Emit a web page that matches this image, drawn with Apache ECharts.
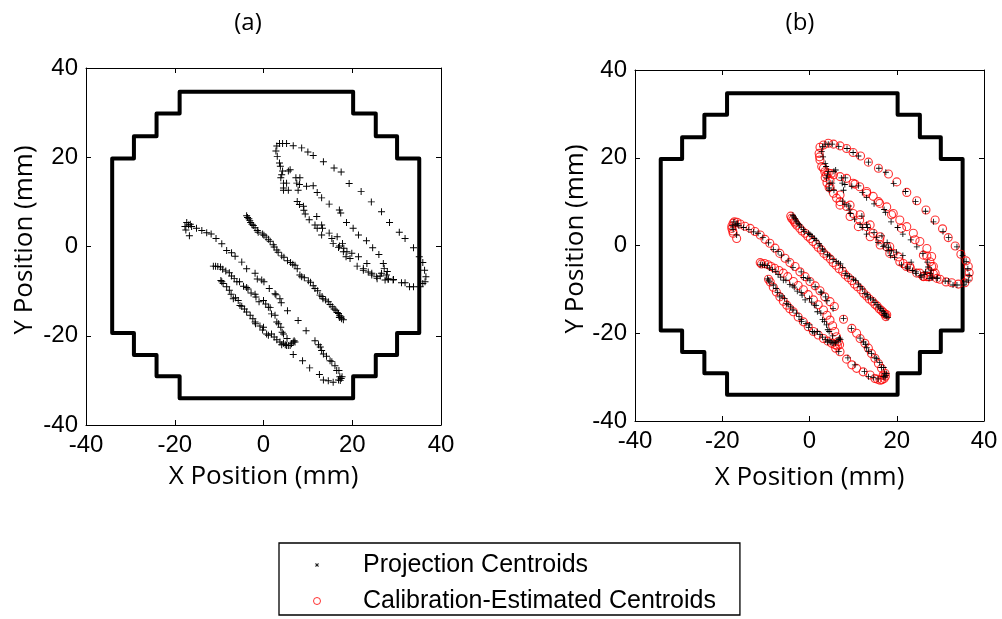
<!DOCTYPE html>
<html>
<head>
<meta charset="utf-8">
<script src="https://cdn.jsdelivr.net/npm/echarts@6/dist/echarts.min.js"></script>
<style>
  html, body { margin: 0; padding: 0; background: #fff; }
  #chart { width: 1002px; height: 619px; }
</style>
</head>
<body>
<div id="chart"></div>
<script>
// Axis range and ticks (mm)
const axisMin = -40;
const axisMax = 40;
const axisStep = 20;

const panelTitles = ['(a)', '(b)'];
const xAxisName = 'X Position (mm)';
const yAxisName = 'Y Position (mm)';
const seriesNames = ['Projection Centroids', 'Calibration-Estimated Centroids'];

// Stepped outline of the detector field of view (mm)
const fieldOutline = [
  [-18.9, 34.7], [20.2, 34.7], [20.2, 29.8], [25.3, 29.8], [25.3, 24.7], [30.1, 24.7],
  [30.1, 19.7], [35.1, 19.7], [35.1, -19.4], [30.1, -19.4], [30.1, -24.3], [25.3, -24.3],
  [25.3, -29.1], [20.2, -29.1], [20.2, -34.0], [-18.9, -34.0], [-18.9, -29.1], [-24.1, -29.1],
  [-24.1, -24.3], [-29.2, -24.3], [-29.2, -19.4], [-34.1, -19.4], [-34.1, 19.7], [-29.2, 19.7],
  [-29.2, 24.7], [-24.1, 24.7], [-24.1, 29.8], [-18.9, 29.8], [-18.9, 34.7]
];

// Projection centroids (mm), grouped by sweep
const projSweep1 = [
  [-17.3, 5.4], [-16.9, 4.8], [-17.7, 4.5], [-17.5, 3.7], [-16.7, 2.4], [-16.5, 5.0], [-16.2, 4.5],
  [-15.1, 4.1], [-13.9, 3.6], [-12.8, 3.1], [-11.8, 2.8], [-10.7, 1.8], [-9.4, 0.6], [-8.3, -0.9],
  [-7.2, -1.4], [-6.4, -2.2], [-4.9, -3.5], [-3.8, -5.0], [-1.9, -6.0], [-1.4, -7.3], [-0.4, -7.5],
  [0.1, -7.9], [1.3, -9.4], [2.6, -10.6], [2.8, -10.8], [3.7, -11.7], [4.0, -12.6], [5.4, -14.4],
  [7.8, -16.6], [9.6, -18.9], [11.6, -21.1], [12.4, -22.0], [12.8, -22.5], [13.1, -23.3], [13.5, -24.1],
  [14.2, -24.6], [15.0, -25.6], [15.4, -25.8], [16.1, -26.7], [16.5, -27.8], [17.0, -27.8], [17.2, -29.2],
  [17.5, -29.6], [17.7, -29.2], [16.9, -29.9], [17.3, -30.0]
];
const projReturn = [
  [15.7, -30.4], [14.6, -30.1], [13.5, -29.9], [12.6, -28.7], [10.4, -27.2], [8.8, -25.6], [6.7, -24.2]
];
const projSweep2 = [
  [-3.8, 6.9], [-3.6, 6.5], [-3.3, 6.2], [-3.1, 5.8], [-2.9, 5.4], [-2.6, 5.0], [-2.3, 4.7], [-1.9, 4.2],
  [-1.4, 3.6], [-1.2, 3.2], [-0.2, 2.8], [0.1, 2.5], [0.6, 2.1], [1.1, 1.6], [1.5, 1.2], [2.2, 0.4],
  [2.4, -0.1], [3.0, -0.8], [3.3, -1.3], [4.1, -2.1], [4.6, -2.4], [5.4, -3.2], [6.1, -3.6], [6.6, -4.0],
  [7.1, -4.2], [7.6, -5.0], [8.2, -6.4], [8.6, -6.8], [9.2, -7.0], [10.1, -7.7], [10.6, -8.0], [11.2, -8.8],
  [11.6, -9.4], [12.2, -9.9], [12.7, -10.9], [13.2, -11.2], [13.4, -11.7], [14.0, -12.0], [14.6, -12.4],
  [15.0, -13.0], [15.5, -13.5], [15.9, -14.0], [16.3, -14.3], [16.6, -14.8], [16.9, -15.0], [17.2, -15.5],
  [17.5, -15.8], [17.6, -16.2], [17.1, -15.9], [18.0, -16.4]
];
const projSweep3 = [
  [-11.3, -4.4], [-10.8, -4.4], [-10.3, -4.5], [-9.7, -4.6], [-9.2, -5.1], [-8.5, -5.5], [-7.7, -5.9],
  [-7.2, -6.6], [-6.6, -7.2], [-6.0, -7.9], [-5.4, -7.9], [-4.5, -8.9], [-3.8, -9.2], [-3.5, -9.5],
  [-2.8, -10.4], [-1.9, -10.7], [-1.7, -11.3], [-1.0, -12.4], [0.0, -12.1], [0.5, -12.9], [1.1, -13.6],
  [1.5, -13.7], [1.8, -15.1], [2.6, -15.4], [3.0, -16.9], [3.4, -17.3], [3.9, -18.1], [4.2, -19.2],
  [4.5, -19.6], [5.3, -20.6]
];
const projSweep4 = [
  [-9.6, -7.6], [-9.4, -7.9], [-9.1, -8.3], [-8.3, -9.0], [-7.7, -9.8], [-7.3, -10.7], [-6.8, -11.7],
  [-6.3, -11.5], [-5.7, -12.1], [-5.3, -13.2], [-4.9, -13.4], [-4.3, -14.0], [-3.8, -14.7], [-3.0, -15.4],
  [-2.4, -16.2], [-1.9, -16.9], [-1.8, -17.3], [-0.8, -17.8], [0.0, -18.1], [-0.2, -18.7], [0.7, -19.6],
  [1.1, -19.9], [1.8, -19.6], [2.4, -20.3], [3.0, -20.9], [3.7, -21.4], [4.1, -22.0], [4.5, -21.7],
  [4.9, -22.0], [5.2, -22.2], [5.6, -22.2], [6.0, -22.2], [6.3, -21.8], [6.7, -21.4], [6.9, -21.1], [7.1, -21.4]
];
const projLoopOuter = [
  [2.8, 21.4], [3.0, 22.5], [3.6, 23.1], [4.3, 23.1], [5.2, 23.1], [6.7, 22.6], [8.6, 22.1], [10.0, 21.2],
  [11.2, 20.4], [13.5, 19.0], [15.9, 17.6], [17.5, 16.7], [19.3, 14.1], [22.0, 12.3], [24.3, 10.0],
  [26.6, 7.8], [28.4, 5.4], [30.6, 3.2], [31.9, 1.8], [33.8, -0.3], [35.1, -2.3], [35.9, -3.6], [36.3, -5.3],
  [36.6, -6.8], [36.4, -7.9], [35.9, -8.3], [35.3, -9.0], [33.8, -9.0], [32.9, -9.0], [31.9, -8.1],
  [31.1, -8.1], [29.3, -7.4], [28.1, -7.4]
];
const projLoopMiddle = [
  [3.1, 20.2], [3.6, 18.7], [3.8, 18.0], [4.3, 16.9], [5.6, 16.9], [6.0, 17.2], [4.1, 16.1], [3.9, 15.4],
  [4.5, 14.2], [5.2, 14.2], [4.5, 13.1], [4.5, 12.6], [5.6, 12.6], [7.3, 15.4], [8.2, 15.4], [7.5, 14.2],
  [8.1, 13.9], [7.8, 12.6], [9.7, 13.5], [11.2, 13.6], [12.1, 12.1], [13.1, 10.9], [14.8, 9.5], [17.1, 8.2],
  [17.4, 7.5], [18.7, 5.4], [20.2, 4.1], [21.4, 2.6], [23.2, 1.3], [24.6, -0.3], [26.0, -1.8], [27.0, -3.8],
  [27.2, -4.9], [26.6, -6.0], [27.7, -6.4], [28.1, -7.2], [29.2, -7.5], [27.4, -7.5], [27.9, -5.6]
];
const projLoopLower = [
  [7.6, 10.1], [8.1, 9.4], [9.0, 9.0], [9.1, 8.1], [9.4, 7.3], [10.3, 6.0], [12.0, 6.7], [11.6, 4.8],
  [12.1, 4.1], [13.3, 4.1], [13.1, 4.8], [13.1, 2.6], [14.8, 3.0], [15.4, 1.8], [16.6, 2.2], [15.7, 0.7],
  [17.1, 0.1], [17.8, 0.7], [16.9, -0.2], [18.1, -0.4], [18.0, -1.2], [18.8, -1.2], [19.9, -1.5],
  [18.6, -2.3], [19.5, -2.7], [21.4, -2.3], [21.1, -4.4], [22.5, -4.9], [23.3, -3.8], [22.5, -5.3],
  [23.6, -5.7], [24.4, -6.0], [24.4, -6.4], [25.5, -6.8], [25.6, -7.2], [26.3, -6.6]
];

// Calibration-estimated centroids (mm), grouped by sweep
const calSweep1 = [
  [-17.2, 5.4], [-17.5, 5.1], [-17.8, 4.4], [-17.8, 3.9], [-17.6, 3.3], [-17.5, 2.8], [-16.7, 1.6],
  [-16.6, 5.3], [-15.9, 4.9], [-14.8, 4.4], [-13.6, 3.9], [-12.5, 3.2], [-11.3, 2.4], [-10.2, 1.4],
  [-9.1, 0.5], [-7.9, -0.6], [-6.8, -1.8], [-5.6, -2.9], [-4.5, -3.9], [-3.3, -4.8], [-2.2, -6.0],
  [-1.0, -7.1], [0.1, -8.2], [1.3, -9.2], [2.4, -10.3], [3.5, -11.7], [4.7, -12.8], [5.7, -13.9],
  [7.8, -16.8], [9.7, -18.9], [10.8, -20.0], [11.6, -21.2], [12.7, -22.3], [13.5, -23.4], [14.2, -24.6],
  [15.0, -25.7], [15.8, -26.9], [16.5, -28.0], [17.3, -29.1], [17.4, -29.8], [17.1, -30.3], [16.6, -30.6],
  [16.2, -30.7], [16.9, -29.5]
];
const calReturn = [
  [15.6, -30.5], [15.0, -30.3], [13.9, -29.5], [12.3, -28.8], [10.8, -28.0], [9.7, -27.2], [8.5, -25.9],
  [7.0, -24.2]
];
const calSweep2 = [
  [-4.3, 6.7], [-4.1, 6.2], [-3.8, 5.9], [-3.5, 5.5], [-3.3, 5.1], [-2.9, 4.6], [-2.2, 3.9], [-1.7, 3.3],
  [-1.0, 2.8], [-0.4, 2.1], [0.2, 1.6], [0.8, 0.9], [1.5, 0.3], [2.0, -0.4], [2.7, -1.0], [3.3, -1.8],
  [4.0, -2.4], [4.8, -3.1], [5.4, -3.9], [6.1, -4.5], [6.8, -5.3], [7.6, -5.9], [8.2, -6.7], [8.9, -7.3],
  [9.7, -8.0], [10.3, -8.8], [11.0, -9.4], [11.8, -10.1], [12.4, -10.9], [13.1, -11.5], [13.7, -12.2],
  [14.4, -12.7], [15.0, -13.4], [15.5, -13.8], [16.0, -14.4], [16.5, -14.8], [16.9, -15.2], [17.3, -15.6],
  [17.7, -15.8], [17.5, -16.2]
];
const calSweep3 = [
  [-11.3, -3.9], [-11.0, -4.2], [-10.3, -4.1], [-9.5, -4.4], [-8.8, -4.8], [-8.0, -5.2], [-7.0, -5.7],
  [-6.0, -6.3], [-5.0, -7.1], [-3.7, -8.2], [-2.6, -9.1], [-1.4, -10.1], [-0.3, -11.2], [0.9, -12.4],
  [2.0, -13.5], [3.2, -14.7], [4.0, -15.9], [4.7, -17.0], [5.3, -18.3], [5.8, -19.6], [6.2, -20.8],
  [6.6, -21.9], [6.9, -22.6]
];
const calSweep4 = [
  [-9.4, -7.7], [-9.0, -8.3], [-8.3, -9.5], [-7.6, -10.6], [-6.8, -11.7], [-6.0, -12.7], [-5.2, -13.6],
  [-4.5, -14.4], [-3.7, -15.1], [-2.6, -16.3], [-1.4, -17.4], [-0.3, -18.5], [0.9, -19.6], [2.0, -20.4],
  [3.2, -21.2], [4.2, -21.8], [5.1, -22.3], [5.8, -22.6], [6.4, -22.9], [6.0, -23.4]
];
const calLoopOuter = [
  [2.4, 22.4], [3.2, 22.9], [4.3, 23.3], [5.5, 23.1], [7.0, 22.7], [8.5, 22.1], [10.0, 21.2], [11.7, 20.4],
  [13.5, 19.0], [15.8, 17.6], [18.1, 16.3], [20.0, 14.5], [22.3, 12.1], [24.6, 10.2], [26.7, 8.1],
  [28.8, 5.8], [30.5, 3.8], [31.8, 1.8], [33.4, -0.1], [34.7, -2.0], [35.9, -3.5], [36.4, -4.8],
  [36.6, -6.2], [36.4, -7.5], [35.6, -8.5], [34.1, -8.8], [32.6, -8.5], [31.3, -8.3], [29.9, -7.7], [29.2, -7.5]
];
const calLoopLeft = [
  [2.2, 21.0], [2.3, 20.2], [2.4, 19.5], [2.8, 18.0], [3.5, 16.8], [3.2, 17.6], [3.9, 16.1], [4.3, 16.5],
  [5.0, 16.4], [3.6, 15.5], [4.0, 14.3], [4.7, 14.9], [4.5, 13.2]
];
const calLoopMiddle = [
  [5.5, 16.1], [7.0, 15.7], [8.5, 15.3], [10.0, 14.2], [10.4, 14.0], [11.5, 13.4], [13.1, 12.3], [13.1, 11.9],
  [14.6, 11.2], [15.8, 10.0], [16.1, 9.6], [17.7, 8.8], [18.8, 7.0], [19.2, 7.3], [20.7, 5.8], [21.1, 3.9],
  [22.3, 4.3], [23.8, 2.8], [24.2, 1.3], [25.3, 0.9], [26.1, -2.2], [26.9, -0.7], [28.0, -2.5], [26.9, -2.4],
  [27.6, -3.7], [28.4, -4.8], [28.0, -4.8], [27.5, -6.0], [28.8, -6.3], [28.4, -6.5], [27.2, -7.1], [26.1, -7.0]
];
const calLoopLower = [
  [4.7, 13.4], [5.5, 11.9], [6.2, 10.8], [7.0, 11.5], [7.0, 10.0], [7.0, 9.2], [8.5, 8.9], [9.3, 9.2],
  [9.3, 6.6], [10.0, 7.3], [11.6, 7.0], [11.2, 4.3], [11.5, 5.8], [13.1, 4.3], [13.9, 4.7], [13.9, 2.0],
  [14.6, 2.8], [16.1, 1.3], [16.2, 2.0], [16.2, 0.1], [17.7, -0.3], [18.4, -0.3], [18.4, -1.8], [19.2, -1.8],
  [20.4, -2.6], [20.7, -3.7], [21.5, -4.1], [22.2, -4.8], [23.0, -4.8], [23.1, -5.2], [24.6, -6.3],
  [25.3, -6.3], [26.1, -7.1], [26.9, -7.1], [27.6, -7.1]
];

const projectionPoints = [].concat(projSweep1, projReturn, projSweep2, projSweep3, projSweep4,
  projLoopOuter, projLoopMiddle, projLoopLower);
const calibrationPoints = [].concat(calSweep1, calReturn, calSweep2, calSweep3, calSweep4,
  calLoopOuter, calLoopLeft, calLoopMiddle, calLoopLower);

// Marker shapes
const PLUS = 'path://M3.45,0H4.55V3.45H8V4.55H4.55V8H3.45V4.55H0V3.45H3.45Z';
const STAR = 'path://M-2,-2h0.01v0.01h-0.01z M8,8h0.01v0.01h-0.01z ' +
  'M2.6,0H3.4V2.6H6V3.4H3.4V6H2.6V3.4H0V2.6H2.6Z ' +
  'M0.4,0L6,5.6L5.6,6L0,0.4Z M5.6,0L6,0.4L0.4,6L0,5.6Z';

const tickFont = 'Liberation Sans';
const nameFont = 'Open Sans';

const grids = [
  { left: 86, top: 68, width: 355, height: 357 },
  { left: 635, top: 70, width: 349, height: 351 }
];
const xNameGaps = [39, 44];
const yNameGaps = [48, 45];

function valueAxis(gridIndex, position, withLabels, name, nameGap) {
  const ax = {
    gridIndex: gridIndex,
    type: 'value',
    position: position,
    min: axisMin,
    max: axisMax,
    interval: axisStep,
    splitLine: { show: false },
    axisLine: { show: true, onZero: false, lineStyle: { color: '#000', width: 1 } },
    axisTick: { show: true, inside: true, length: 5, lineStyle: { color: '#000', width: 1 } },
    axisLabel: {
      show: withLabels, color: '#000', fontFamily: tickFont, fontSize: 24, margin: 8
    }
  };
  if (name) {
    ax.name = name;
    ax.nameLocation = 'middle';
    ax.nameGap = nameGap;
    ax.nameTextStyle = {
      color: '#000', fontFamily: nameFont, fontSize: 26,
      padding: (position === 'left') ? [0, 0, 0, 13] : 0
    };
  }
  return ax;
}

const xAxes = [];
const yAxes = [];
grids.forEach(function (g, i) {
  xAxes.push(valueAxis(i, 'bottom', true, xAxisName, xNameGaps[i]));
  xAxes.push(valueAxis(i, 'top', false));
  yAxes.push(valueAxis(i, 'left', true, yAxisName, yNameGaps[i]));
  yAxes.push(valueAxis(i, 'right', false));
});

function outlineSeries(axisIndex) {
  return {
    name: 'Field of view',
    type: 'line',
    xAxisIndex: axisIndex,
    yAxisIndex: axisIndex,
    data: fieldOutline,
    showSymbol: false,
    silent: true,
    z: 2,
    lineStyle: { color: '#000', width: 4, join: 'round', cap: 'round' }
  };
}

function projectionSeries(axisIndex, size) {
  return {
    name: seriesNames[0],
    type: 'scatter',
    xAxisIndex: axisIndex,
    yAxisIndex: axisIndex,
    data: projectionPoints,
    symbol: PLUS,
    symbolSize: size,
    z: 4,
    itemStyle: { color: '#000', opacity: 1 }
  };
}

const option = {
  animation: false,
  backgroundColor: '#fff',
  title: panelTitles.map(function (t, i) {
    return {
      text: t,
      left: [248, 800][i],
      top: 11,
      padding: 0,
      textAlign: 'center',
      textStyle: { fontFamily: nameFont, fontSize: 24, fontWeight: 'normal', color: '#000' }
    };
  }),
  grid: grids,
  xAxis: xAxes,
  yAxis: yAxes,
  legend: {
    orient: 'vertical',
    left: 279,
    top: 543,
    padding: [9, 24, 1, 34],
    itemWidth: 82,
    itemHeight: 7,
    itemGap: 10,
    borderColor: '#000',
    borderWidth: 1.3,
    selectedMode: false,
    textStyle: { fontFamily: tickFont, fontSize: 25, color: '#000', lineHeight: 26 },
    data: [
      { name: seriesNames[0], icon: STAR, itemStyle: { color: '#000', borderWidth: 0 } },
      { name: seriesNames[1], icon: 'circle',
        itemStyle: { color: 'rgba(0,0,0,0)', borderColor: '#ff0000', borderWidth: 1 } }
    ]
  },
  series: [
    outlineSeries(0),
    projectionSeries(0, 7),
    outlineSeries(2),
    {
      name: seriesNames[1],
      type: 'scatter',
      xAxisIndex: 2,
      yAxisIndex: 2,
      data: calibrationPoints,
      symbol: 'circle',
      symbolSize: 8,
      z: 3,
      itemStyle: { color: 'rgba(0,0,0,0)', borderColor: '#ff0000', borderWidth: 1.1 }
    },
    projectionSeries(2, 6)
  ]
};

const chart = echarts.init(document.getElementById('chart'), null, { renderer: 'canvas' });
chart.setOption(option);
</script>
</body>
</html>
